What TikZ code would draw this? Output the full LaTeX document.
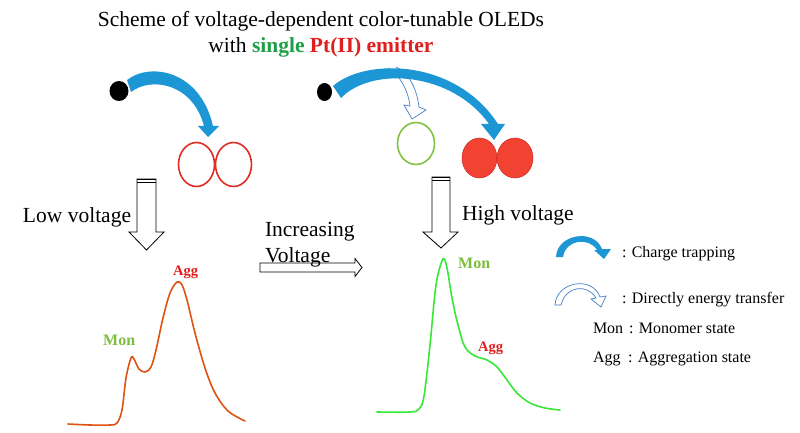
\documentclass[tikz,border=0pt]{standalone}
\usepackage{fontspec}
\setmainfont{Liberation Serif}
\definecolor{arrblue}{RGB}{28,150,212}
\definecolor{hollblue}{RGB}{70,130,200}
\definecolor{ringred}{RGB}{225,45,35}
\definecolor{dotred}{RGB}{242,66,50}
\definecolor{ringgreen}{RGB}{130,195,65}
\definecolor{labgreen}{RGB}{125,190,60}
\definecolor{titlegreen}{RGB}{30,160,70}
\definecolor{titlered}{RGB}{225,30,30}
\definecolor{specorange}{RGB}{222,82,18}
\definecolor{specgreen}{RGB}{55,232,55}
\tikzset{
  txt/.style={inner sep=0pt, outer sep=0pt, font=\fontsize{21.5}{24}\selectfont},
  legtxt/.style={inner sep=0pt, outer sep=0pt, font=\fontsize{16}{18}\selectfont},
  monlab/.style={inner sep=0pt, text=labgreen, font=\bfseries\fontsize{16}{18}\selectfont},
  agglab/.style={inner sep=0pt, text=titlered, font=\bfseries\fontsize{14.5}{16}\selectfont},
  hollowarr/.style={draw=black, line width=0.8pt, fill=white},
  hollowblue/.style={draw=hollblue, line width=0.7pt, fill=white},
  solidblue/.style={fill=arrblue},
  blackdot/.style={ellipse, fill=black, inner sep=0pt},
  ring/.style={ellipse, draw=ringred, line width=1.6pt, inner sep=0pt},
  filledring/.style={ellipse, fill=dotred, draw=ringred!90!black, line width=0.5pt, inner sep=0pt},
  greenring/.style={ellipse, draw=ringgreen, line width=1.6pt, inner sep=0pt},
  spectrum/.style={line width=1.6pt, line join=round, line cap=round}
}
\usetikzlibrary{shapes.geometric}
\begin{document}
\begin{tikzpicture}[x=1pt, y=-1pt]
\useasboundingbox[fill=white] (0,0) rectangle (800,433);

% title
\node[txt, anchor=base] (t1) at (321,27) {Scheme of voltage-dependent color-tunable OLEDs};
\node[txt, anchor=base] (t2) at (321,53) {with \textcolor{titlegreen}{\bfseries single} \textcolor{titlered}{\bfseries Pt(II) emitter}};

% left scheme
\node[blackdot, minimum width=19pt, minimum height=20pt] (dl) at (119,91) {};
\node[ring, minimum width=36pt, minimum height=44pt] (rl1) at (196.5,164.5) {};
\node[ring, minimum width=36pt, minimum height=44pt] (rl2) at (233.5,164.5) {};
\fill[solidblue] (127,80) .. controls (150,62) and (200,70) .. (213,126) -- (219,126) -- (208,137) -- (198,126) -- (204,126) .. controls (193,84) and (152,76) .. (131,92) -- cycle;

% right scheme
\node[blackdot, minimum width=15pt, minimum height=18pt] (dr) at (324.5,92) {};
\node[greenring, minimum width=37pt, minimum height=42pt] (gr) at (416,143.5) {};
\node[filledring, minimum width=35pt, minimum height=40pt] (fr1) at (479.5,158) {};
\node[filledring, minimum width=36pt, minimum height=40pt] (fr2) at (515,158) {};
\draw[hollowblue] (388,68) .. controls (400,75) and (408,90) .. (410,106) -- (404,105) -- (412,119) -- (426,110) -- (419,107) .. controls (417,90) and (410,74) .. (396,67);
\fill[solidblue] (333,86) .. controls (365,58) and (455,58) .. (498,124) -- (505,124) -- (494,140) -- (481,124) -- (489,124) .. controls (452,72) and (372,66) .. (341,98) -- cycle;

% down arrows
\draw[hollowarr] (137,179) -- (156,179) -- (156,232) -- (164,232) -- (146.5,250) -- (129,232) -- (137,232) -- cycle;
\draw[line width=1.3pt] (137,179.5) -- (156,179.5) (137,182.5) -- (156,182.5);
\draw[hollowarr] (432,177) -- (450,177) -- (450,232) -- (458,232) -- (441,248) -- (423,232) -- (432,232) -- cycle;
\draw[line width=1.3pt] (432,177.5) -- (450,177.5) (432,180.5) -- (450,180.5);

% horizontal arrow
\draw[hollowarr] (260,263) -- (355,263) -- (355,258.5) -- (362,267.5) -- (355,276.5) -- (355,272) -- (260,272) -- cycle;

% texts
\node[txt, anchor=base west] (lowv) at (23,222) {Low voltage};
\node[txt, anchor=base west] (inc1) at (265,236) {Increasing};
\node[txt, anchor=base west] (inc2) at (265,262) {Voltage};
\node[txt, anchor=base west] (highv) at (462,220) {High voltage};

% left spectrum
\draw[spectrum, specorange] plot[smooth, tension=0.55] coordinates {(68,424) (90,425) (110,425) (117,423) (122,410) (126,378) (131,358) (134,359) (139,369) (145,372) (151,367) (156,350) (163,318) (170,293) (177,282) (182,285) (187,300) (195,333) (205,368) (215,393) (228,411) (245,421)};
\node[monlab, anchor=base west] (monl) at (103,345) {Mon};
\node[agglab, anchor=base west] (aggl) at (173,275) {Agg};

% right spectrum
\draw[spectrum, specgreen] plot[smooth, tension=0.55] coordinates {(377,412) (410,412) (419,409) (424,396) (430,345) (436,285) (443,259) (447,268) (452,298) (458,325) (465,347) (475,356) (487,360) (497,367) (507,380) (517,393) (530,403) (545,408) (560,410)};
\node[monlab, anchor=base west] (monr) at (458,268) {Mon};
\node[agglab, anchor=base west] (aggr) at (478,351) {Agg};

% legend
\fill[solidblue] (556,257) .. controls (557,234) and (594,228) .. (602,249) -- (611,249) -- (604,259) -- (594,250) -- (597,250) .. controls (589,237) and (566,239) .. (563,257) -- cycle;
\node[legtxt, anchor=base west] (lg1) at (622,257) {: Charge trapping};
\draw[hollowblue] (555,305) .. controls (556,282) and (592,275) .. (600,297) -- (606,296) -- (601,307) -- (591,299) -- (596,298) .. controls (588,284) and (566,285) .. (561,305) -- cycle;
\node[legtxt, anchor=base west] (lg2) at (622,303) {: Directly energy transfer};
\node[legtxt, anchor=base west] (lg3a) at (593,333) {Mon};
\node[legtxt, anchor=base west] (lg3b) at (629,333) {: Monomer state};
\node[legtxt, anchor=base west] (lg4a) at (593,362) {Agg};
\node[legtxt, anchor=base west] (lg4b) at (628,362) {: Aggregation state};
\end{tikzpicture}
\end{document}
